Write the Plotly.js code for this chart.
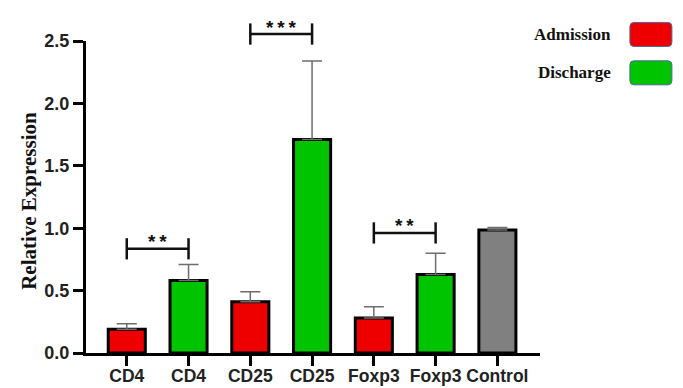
<!DOCTYPE html>
<html>
<head>
<meta charset="utf-8">
<script src="https://cdn.plot.ly/plotly-3.0.1.min.js"></script>
<style>html,body{margin:0;padding:0;background:#fff;}#chart{width:683px;height:388px;}</style>
</head>
<body>
<div id="chart"></div>
<script>
// ---- data ----
const tickLabels = ["CD4", "CD4", "CD25", "CD25", "Foxp3", "Foxp3", "Control"];
const groups = ["Admission", "Discharge", "Admission", "Discharge", "Admission", "Discharge", "Control"];
const values = [0.19, 0.58, 0.41, 1.71, 0.28, 0.63, 0.985];
const errorsUp = [0.045, 0.13, 0.08, 0.63, 0.09, 0.17, 0.02];
const yTickVals = [0, 0.5, 1.0, 1.5, 2.0, 2.5];
const yTickText = ["0.0", "0.5", "1.0", "1.5", "2.0", "2.5"];
// significance brackets: [from index, to index, bracket height, label]
const sigFrom = [0, 2, 4];
const sigTo = [1, 3, 5];
const sigLevel = [0.835, 2.556, 0.962];
const sigLabel = ["**", "***", "**"];
const legendNames = ["Admission", "Discharge"];
const yTitle = "Relative Expression";

// ---- styles ----
const colorMap = { Admission: "#EE0000", Discharge: "#00C400", Control: "#808080" };
const xIdx = tickLabels.map((_, i) => i);
const xRange = [-0.66, 6.69];
const yRange = [0, 2.5];

const trace = {
  type: "bar",
  x: xIdx,
  y: values,
  width: 0.6,
  marker: { color: groups.map(g => colorMap[g]), line: { color: "#000", width: 3 } },
  error_y: {
    type: "data", symmetric: false, array: errorsUp, arrayminus: values.map(() => 0),
    color: "#6e6e6e", thickness: 1.5, width: 10
  },
  hoverinfo: "skip",
  showlegend: false
};

// domain-fraction helpers so brackets above the top of the axis are not clipped
const fx = v => (v - xRange[0]) / (xRange[1] - xRange[0]);
const fy = v => (v - yRange[0]) / (yRange[1] - yRange[0]);

const shapes = [];
const annotations = [];
const capH = 0.085;
sigFrom.forEach((a, k) => {
  const b = sigTo[k], h = sigLevel[k];
  const line = { color: "#111", width: 2.5 };
  const base = { type: "line", xref: "x domain", yref: "y domain", line };
  shapes.push({ ...base, x0: fx(a), x1: fx(b), y0: fy(h), y1: fy(h) });
  shapes.push({ ...base, x0: fx(a), x1: fx(a), y0: fy(h - capH), y1: fy(h + capH) });
  shapes.push({ ...base, x0: fx(b), x1: fx(b), y0: fy(h - capH), y1: fy(h + capH) });
  annotations.push({
    xref: "x domain", yref: "y domain", x: fx((a + b) / 2), y: fy(h), yshift: 7,
    xanchor: "center", yanchor: "middle", showarrow: false,
    text: sigLabel[k].split("").join("\u2009"),
    font: { family: "Liberation Sans, Arial", size: 19, weight: "bold", color: "#111" }
  });
});

// y-axis title (placed as a rotated annotation to match the reference position)
annotations.push({
  xref: "paper", yref: "paper", x: -0.126, y: 0.487, xanchor: "center", yanchor: "middle",
  textangle: -90, showarrow: false, text: yTitle,
  font: { family: "Liberation Serif, Times New Roman", size: 21, weight: "bold", color: "#111" }
});

// custom legend (paper coords)
const legY = [1.021, 0.898];
legendNames.forEach((n, k) => {
  annotations.push({
    xref: "paper", yref: "paper", x: 1.161, y: legY[k], xanchor: "right", yanchor: "middle",
    showarrow: false, text: n,
    font: { family: "Liberation Serif, Times New Roman", size: 17, weight: "bold", color: "#111" }
  });
  shapes.push({
    type: "path", xref: "paper", yref: "paper", xsizemode: "pixel", ysizemode: "pixel",
    xanchor: 1.198, yanchor: legY[k],
    path: "M 4 -12 L 38 -12 Q 42 -12 42 -8 L 42 8 Q 42 12 38 12 L 4 12 Q 0 12 0 8 L 0 -8 Q 0 -12 4 -12 Z",
    fillcolor: colorMap[n], line: { color: "#4a6a9a", width: 1 }
  });
});

const layout = {
  width: 683, height: 388,
  margin: { l: 86, r: 143, t: 41, b: 35, pad: 0 },
  paper_bgcolor: "#fff", plot_bgcolor: "#fff",
  showlegend: false,
  xaxis: {
    range: xRange, tickvals: xIdx, ticktext: tickLabels,
    showgrid: false, zeroline: false, showline: true, linecolor: "#000", linewidth: 3,
    ticks: "outside", ticklen: 10, tickwidth: 3, tickcolor: "#000", ticklabelstandoff: -5,
    tickfont: { family: "Liberation Sans, Arial", size: 17.5, weight: "bold", color: "#222" },
    fixedrange: true
  },
  yaxis: {
    range: yRange, tickvals: yTickVals, ticktext: yTickText,
    showgrid: false, zeroline: false, showline: true, linecolor: "#000", linewidth: 3,
    ticks: "outside", ticklen: 10, tickwidth: 3, tickcolor: "#000",
    tickfont: { family: "Liberation Sans, Arial", size: 18, weight: "bold", color: "#222" },
    fixedrange: true
  },
  shapes, annotations
};

Plotly.newPlot("chart", [trace], layout, { displayModeBar: false, staticPlot: true });
</script>
</body>
</html>
